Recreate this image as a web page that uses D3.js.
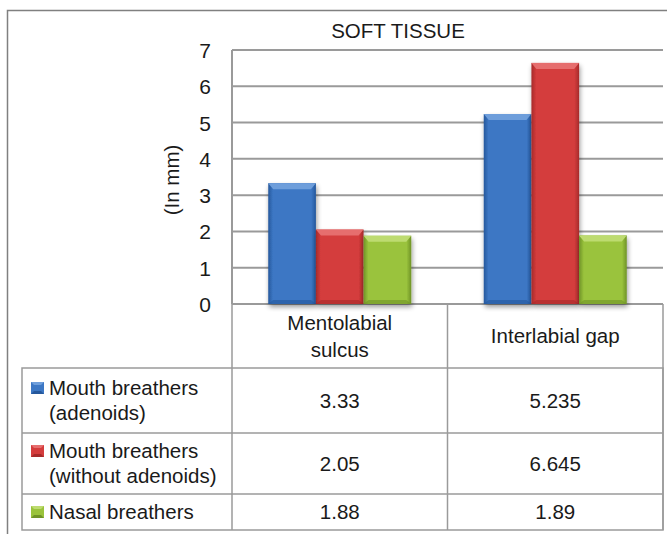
<!DOCTYPE html>
<html>
<head>
<meta charset="utf-8">
<script src="https://cdn.jsdelivr.net/npm/d3@7"></script>
<style>
  body { margin: 0; background: #fff; }
  text { font-family: "Liberation Sans", Arial, sans-serif; fill: #1a1a1a; }
</style>
</head>
<body>
<script>
// data
var categories = ['Mentolabial sulcus', 'Interlabial gap'];
var categoryLines = [['Mentolabial', 'sulcus'], ['Interlabial gap']];
var seriesNames = ['Mouth breathers (adenoids)', 'Mouth breathers (without adenoids)', 'Nasal breathers'];
var seriesLines = [['Mouth breathers', '(adenoids)'], ['Mouth breathers', '(without adenoids)'], ['Nasal breathers']];
var seriesValues = [[3.33, 5.235], [2.05, 6.645], [1.88, 1.89]];
var valueLabels = [['3.33', '5.235'], ['2.05', '6.645'], ['1.88', '1.89']];
var yTicks = [0, 1, 2, 3, 4, 5, 6, 7];
var colors = ['#3c77c4', '#d43c3c', '#9ac33c'];
var darkColors = ['#25589c', '#a62a2a', '#6f9327'];
var lightColors = ['#6e9edb', '#e66e6e', '#bddb70'];

var W = 667, H = 534;
var svg = d3.select('body').append('svg').attr('width', W).attr('height', H);

// outer frame
svg.append('path').attr('d', 'M7.5,' + H + ' V10.5 H' + W)
  .attr('fill', 'none').attr('stroke', '#808080').attr('stroke-width', 1.5);

var plotL = 232, plotR = 663, plotT = 50, plotB = 304;
var x = d3.scaleBand().domain(categories).range([plotL, plotR]);
var xs = d3.scaleBand().domain(seriesNames).range([0, 143]);
var y = d3.scaleLinear().domain([0, 7]).range([plotB, plotT]);

// title
svg.append('text').attr('x', 398).attr('y', 38).attr('text-anchor', 'middle')
  .style('font-size', '20.5px').text('SOFT TISSUE');

// grid lines
svg.append('g').selectAll('line').data(yTicks).join('line')
  .attr('x1', plotL).attr('x2', plotR)
  .attr('y1', function(d) { return y(d); }).attr('y2', function(d) { return y(d); })
  .attr('stroke', '#9a9a9a').attr('stroke-width', 2);
svg.append('line').attr('x1', plotL).attr('x2', plotL).attr('y1', plotT).attr('y2', plotB)
  .attr('stroke', '#9a9a9a').attr('stroke-width', 2);

// y axis labels
var yAxis = d3.axisLeft(y).tickValues(yTicks).tickFormat(d3.format('d')).tickSize(0).tickPadding(0);
var ga = svg.append('g').attr('transform', 'translate(' + (plotL - 22) + ',0)').call(yAxis);
ga.attr('font-size', null).attr('font-family', null);
ga.select('.domain').remove();
ga.selectAll('text').attr('text-anchor', 'middle').attr('x', -5).attr('dy', '0.36em')
  .style('font-size', '21px').attr('fill', '#1a1a1a');

svg.append('text').attr('transform', 'translate(179,180) rotate(-90)')
  .attr('text-anchor', 'middle').style('font-size', '20.5px').text('(In mm)');

// defs: shadow
var defs = svg.append('defs');
var f = defs.append('filter').attr('id', 'sh').attr('x', '-20%').attr('y', '-10%').attr('width', '140%').attr('height', '130%');
f.append('feGaussianBlur').attr('in', 'SourceAlpha').attr('stdDeviation', 2.5);
f.append('feOffset').attr('dx', 1).attr('dy', 3).attr('result', 'b');
f.append('feComponentTransfer').append('feFuncA').attr('type', 'linear').attr('slope', 0.4);
var m = f.append('feMerge');
m.append('feMergeNode');
m.append('feMergeNode').attr('in', 'SourceGraphic');

colors.forEach(function(c, i) {
  var g = defs.append('linearGradient').attr('id', 'g' + i).attr('x1', 0).attr('x2', 1).attr('y1', 0).attr('y2', 0);
  g.append('stop').attr('offset', '0%').attr('stop-color', darkColors[i]);
  g.append('stop').attr('offset', '10%').attr('stop-color', c);
  g.append('stop').attr('offset', '90%').attr('stop-color', c);
  g.append('stop').attr('offset', '100%').attr('stop-color', darkColors[i]);
});

// bars
var barData = [];
seriesNames.forEach(function(s, i) {
  categories.forEach(function(c, j) {
    barData.push({ s: s, i: i, c: c, v: seriesValues[i][j] });
  });
});
var groupOff = (x.bandwidth() - 143) / 2;
var bars = svg.append('g').selectAll('g').data(barData).join('g')
  .attr('transform', function(d) { return 'translate(' + (x(d.c) + groupOff + xs(d.s)) + ',0)'; });
bars.append('rect')
  .attr('x', 0).attr('width', xs.bandwidth())
  .attr('y', function(d) { return y(d.v); })
  .attr('height', function(d) { return plotB - y(d.v); })
  .attr('fill', function(d) { return 'url(#g' + d.i + ')'; })
  .attr('filter', 'url(#sh)');
// top bevel
bars.append('path')
  .attr('d', function(d) {
    var t = y(d.v), w = xs.bandwidth();
    return 'M0,' + t + ' H' + w + ' L' + (w - 5) + ',' + (t + 6) + ' H5 Z';
  })
  .attr('fill', function(d) { return lightColors[d.i]; });
// bottom bevel
bars.append('path')
  .attr('d', function(d) {
    var w = xs.bandwidth();
    return 'M0,' + plotB + ' H' + w + ' L' + (w - 5) + ',' + (plotB - 4) + ' H5 Z';
  })
  .attr('fill', function(d) { return darkColors[d.i]; }).attr('opacity', 0.6);

// data table
var rowY = [304, 368, 433, 494, 530];
var tableL = 22;
var tc = '#9a9a9a';
var tg = svg.append('g').attr('fill', 'none').attr('stroke', tc).attr('stroke-width', 1.5);
tg.append('path').attr('d', 'M' + plotL + ',' + rowY[0] + ' V' + rowY[1] + ' M' + x(categories[1]) + ',' + rowY[0] + ' V' + rowY[4]
  + ' M' + plotR + ',' + rowY[0] + ' V' + rowY[4]);
tg.append('path').attr('d', 'M' + tableL + ',' + rowY[1] + ' H' + plotR + ' V' + rowY[4] + ' H' + tableL + ' Z');
tg.append('path').attr('d', 'M' + tableL + ',' + rowY[2] + ' H' + plotR + ' M' + tableL + ',' + rowY[3] + ' H' + plotR
  + ' M' + plotL + ',' + rowY[1] + ' V' + rowY[4]);

var fs = 20.5, lh = 25;
categories.forEach(function(c, j) {
  var lines = categoryLines[j];
  var cy = (rowY[0] + rowY[1]) / 2;
  var t = svg.append('text').attr('text-anchor', 'middle').style('font-size', fs + 'px');
  lines.forEach(function(l, k) {
    t.append('tspan').attr('x', x(c) + x.bandwidth() / 2)
      .attr('y', cy + 7 + (k - (lines.length - 1) / 2) * 27).text(l);
  });
});

seriesNames.forEach(function(s, i) {
  var cy = (rowY[i + 1] + rowY[i + 2]) / 2;
  var lines = seriesLines[i];
  var firstBase = cy + 7 - (lines.length - 1) / 2 * lh;
  var mk = svg.append('g').attr('transform', 'translate(31,' + (firstBase - 13) + ')');
  mk.append('rect').attr('width', 13).attr('height', 12).attr('fill', colors[i]);
  mk.append('path').attr('d', 'M0,0 H13 L10,3 H3 Z').attr('fill', lightColors[i]);
  mk.append('path').attr('d', 'M0,12 H13 L10,9 H3 Z').attr('fill', darkColors[i]);
  var t = svg.append('text').style('font-size', fs + 'px');
  lines.forEach(function(l, k) {
    t.append('tspan').attr('x', 49).attr('y', firstBase + k * lh).text(l);
  });
  categories.forEach(function(c, j) {
    svg.append('text').attr('text-anchor', 'middle').style('font-size', fs + 'px')
      .attr('x', x(c) + x.bandwidth() / 2).attr('y', cy + 7).text(valueLabels[i][j]);
  });
});
</script>
</body>
</html>
